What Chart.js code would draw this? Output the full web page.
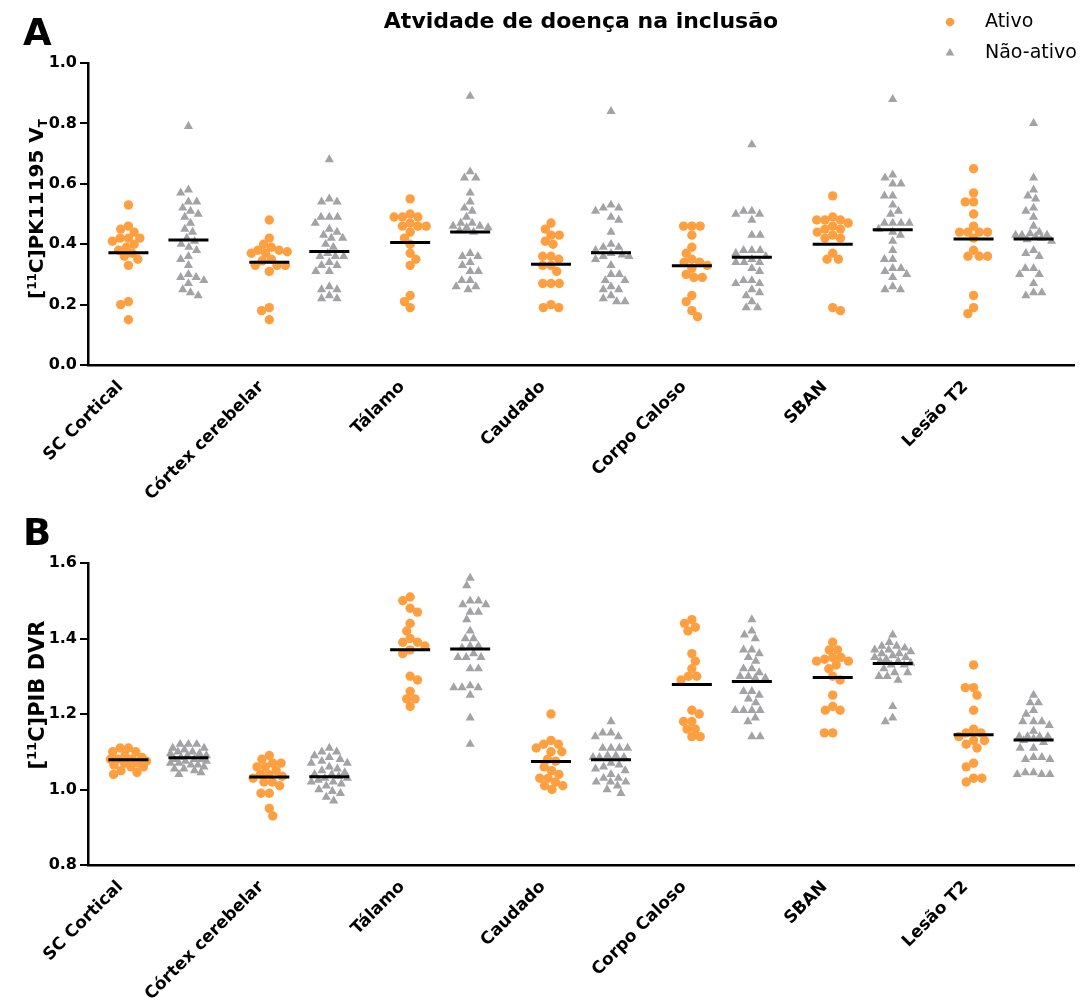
<!DOCTYPE html>
<html>
<head>
<meta charset="utf-8">
<script src="https://cdn.jsdelivr.net/npm/chart.js@4.4.1/dist/chart.umd.min.js"></script>
<style>
  html, body { margin: 0; padding: 0; background: #fff; }
  canvas { display: block; }
</style>
</head>
<body>
<canvas id="panelA" width="1082" height="500"></canvas>
<canvas id="panelB" width="1082" height="500"></canvas>
<script>
// ---- categories, labels ----
const regions = ['SC Cortical', 'Córtex cerebelar', 'Tálamo', 'Caudado', 'Corpo Caloso', 'SBAN', 'Lesão T2'];
const groupNames = ['Ativo', 'Não-ativo'];
const chartTitle = 'Atvidade de doença na inclusão';
const ticksA = [0.0, 0.2, 0.4, 0.6, 0.8, 1.0];
const ticksB = [0.8, 1.0, 1.2, 1.4, 1.6];

// ---- [11C]PK11195 VT, one list per region ----
const pkAtivo = [
  [0.53,0.46,0.45,0.44,0.42,0.42,0.42,0.41,0.40,0.39,0.38,0.37,0.36,0.35,0.33,0.21,0.20,0.15],
  [0.48,0.42,0.40,0.39,0.38,0.38,0.375,0.37,0.37,0.35,0.345,0.33,0.33,0.33,0.31,0.19,0.18,0.15],
  [0.55,0.50,0.49,0.49,0.49,0.47,0.46,0.46,0.46,0.44,0.42,0.40,0.37,0.35,0.33,0.23,0.21,0.19],
  [0.47,0.45,0.43,0.43,0.41,0.40,0.36,0.35,0.36,0.33,0.33,0.31,0.27,0.27,0.27,0.20,0.19,0.19],
  [0.46,0.46,0.46,0.43,0.39,0.37,0.34,0.34,0.35,0.33,0.32,0.30,0.29,0.29,0.23,0.21,0.18,0.16],
  [0.56,0.49,0.48,0.48,0.48,0.47,0.46,0.45,0.45,0.44,0.43,0.42,0.42,0.37,0.35,0.35,0.19,0.18],
  [0.65,0.57,0.54,0.54,0.50,0.46,0.44,0.44,0.44,0.44,0.42,0.38,0.36,0.36,0.36,0.23,0.19,0.17]
];
const pkNaoAtivo = [
  [0.79,0.58,0.57,0.54,0.54,0.52,0.51,0.50,0.49,0.47,0.45,0.44,0.42,0.41,0.40,0.39,0.38,0.36,0.35,0.33,0.30,0.29,0.29,0.28,0.27,0.25,0.24,0.23],
  [0.68,0.55,0.54,0.54,0.49,0.49,0.49,0.47,0.45,0.44,0.43,0.42,0.42,0.40,0.39,0.37,0.36,0.36,0.36,0.34,0.33,0.33,0.31,0.31,0.26,0.25,0.25,0.23,0.22,0.22],
  [0.89,0.64,0.62,0.62,0.57,0.54,0.51,0.52,0.49,0.47,0.46,0.455,0.455,0.46,0.47,0.445,0.44,0.37,0.36,0.36,0.34,0.33,0.31,0.31,0.28,0.28,0.26,0.25,0.26],
  [0.84,0.52,0.53,0.51,0.52,0.49,0.48,0.44,0.40,0.39,0.39,0.38,0.37,0.365,0.36,0.35,0.36,0.33,0.30,0.30,0.28,0.28,0.26,0.25,0.25,0.23,0.22,0.21,0.21],
  [0.73,0.51,0.50,0.50,0.51,0.48,0.43,0.43,0.38,0.38,0.38,0.37,0.36,0.35,0.34,0.34,0.34,0.31,0.32,0.27,0.28,0.28,0.27,0.25,0.24,0.23,0.21,0.19,0.19],
  [0.88,0.63,0.62,0.60,0.60,0.56,0.56,0.53,0.50,0.51,0.47,0.47,0.47,0.47,0.45,0.43,0.44,0.41,0.38,0.35,0.35,0.32,0.31,0.30,0.32,0.29,0.26,0.25,0.25],
  [0.80,0.62,0.58,0.56,0.55,0.52,0.51,0.49,0.46,0.44,0.43,0.43,0.425,0.43,0.435,0.41,0.38,0.36,0.37,0.32,0.30,0.30,0.32,0.27,0.24,0.23,0.24,0.42,0.415]
];
const pkMeanAtivo    = [0.372, 0.340, 0.406, 0.334, 0.329, 0.400, 0.417];
const pkMeanNaoAtivo = [0.414, 0.376, 0.440, 0.372, 0.357, 0.448, 0.417];

// ---- [11C]PIB DVR, one list per region ----
const pibAtivo = [
  [1.11,1.11,1.10,1.10,1.09,1.085,1.08,1.08,1.08,1.075,1.07,1.07,1.065,1.06,1.06,1.05,1.045,1.04],
  [1.09,1.08,1.07,1.07,1.06,1.06,1.05,1.04,1.04,1.035,1.03,1.02,1.02,1.01,0.99,0.99,0.95,0.93],
  [1.51,1.50,1.48,1.47,1.44,1.42,1.40,1.39,1.39,1.38,1.37,1.36,1.30,1.29,1.26,1.24,1.24,1.22],
  [1.20,1.13,1.12,1.12,1.11,1.10,1.10,1.08,1.075,1.06,1.05,1.04,1.03,1.03,1.02,1.01,1.01,1.00],
  [1.45,1.44,1.43,1.42,1.36,1.34,1.32,1.30,1.30,1.29,1.21,1.20,1.18,1.18,1.16,1.16,1.14,1.14],
  [1.39,1.37,1.37,1.35,1.35,1.345,1.34,1.34,1.33,1.32,1.30,1.29,1.25,1.22,1.21,1.21,1.15,1.15],
  [1.33,1.27,1.27,1.25,1.21,1.16,1.15,1.15,1.14,1.13,1.12,1.13,1.11,1.07,1.06,1.03,1.03,1.02]
];
const pibNaoAtivo = [
  [1.12,1.12,1.12,1.11,1.11,1.105,1.10,1.10,1.095,1.095,1.09,1.09,1.085,1.08,1.08,1.08,1.075,1.075,1.07,1.07,1.065,1.065,1.06,1.055,1.055,1.05,1.045,1.04],
  [1.11,1.10,1.10,1.09,1.085,1.08,1.075,1.07,1.07,1.06,1.055,1.05,1.045,1.04,1.04,1.035,1.03,1.03,1.025,1.02,1.02,1.015,1.01,1.00,0.995,0.99,0.98,0.97],
  [1.56,1.54,1.50,1.49,1.49,1.50,1.47,1.47,1.45,1.42,1.40,1.40,1.38,1.38,1.375,1.35,1.36,1.35,1.35,1.32,1.32,1.27,1.27,1.275,1.27,1.25,1.19,1.12],
  [1.18,1.15,1.14,1.14,1.15,1.11,1.11,1.11,1.11,1.09,1.085,1.085,1.085,1.09,1.07,1.065,1.06,1.055,1.05,1.04,1.03,1.03,1.02,1.02,1.02,1.01,0.99,1.00],
  [1.45,1.41,1.42,1.40,1.37,1.37,1.36,1.35,1.34,1.32,1.32,1.31,1.30,1.295,1.295,1.30,1.26,1.26,1.25,1.24,1.23,1.21,1.21,1.21,1.21,1.19,1.18,1.14,1.14],
  [1.41,1.39,1.38,1.38,1.375,1.37,1.37,1.365,1.36,1.36,1.355,1.35,1.35,1.345,1.34,1.34,1.335,1.33,1.33,1.32,1.31,1.31,1.30,1.30,1.29,1.22,1.19,1.18],
  [1.25,1.23,1.23,1.21,1.20,1.18,1.18,1.18,1.17,1.155,1.14,1.14,1.135,1.14,1.14,1.13,1.125,1.11,1.11,1.085,1.08,1.08,1.085,1.045,1.04,1.04,1.04,1.045]
];
const pibMeanAtivo    = [1.079, 1.033, 1.370, 1.074, 1.278, 1.297, 1.145];
const pibMeanNaoAtivo = [1.084, 1.034, 1.372, 1.079, 1.286, 1.334, 1.131];

// ---- styling ----
const FONT = '"DejaVu Sans", "Liberation Sans", Arial, sans-serif';
const ORANGE = '#FF9F40';
const GREY = '#A3A3A6';
const SLOT = 0.213;      // column offset of each group inside a region
const HALF_MEAN = 0.142; // half width of the mean bar, in region units
const SWARM_GAP = 8.3;   // min distance between point centres (px)
const SWARM_HALF = 18;   // max horizontal spread of a column (px)

// Beeswarm placement: keeps each y exactly, pushes points sideways to avoid overlap
function swarm(ys, d, maxHalf) {
  const order = ys.map((_, i) => i).sort((a, b) => ys[a] - ys[b]);
  const placed = [];
  const out = new Array(ys.length).fill(0);
  let pref = 1;
  order.forEach(i => {
    const y = ys[i];
    const near = placed.filter(p => Math.abs(p.y - y) < d);
    const free = x => near.every(p => (p.x - x) ** 2 + (p.y - y) ** 2 >= d * d - 0.01);
    const cands = [0];
    near.forEach(p => {
      const w = Math.sqrt(d * d - (p.y - y) ** 2);
      cands.push(p.x - w, p.x + w);
    });
    cands.sort((a, b) => (Math.abs(a) - Math.abs(b)) || (a - b) * pref);
    let x = cands.find(c => free(c) && Math.abs(c) <= maxHalf);
    if (x === undefined) {
      let best = 0, bestRoom = -1;
      for (let c = -maxHalf; c <= maxHalf; c += 0.5) {
        const room = near.reduce((m, p) => Math.min(m, Math.hypot(p.x - c, p.y - y)), Infinity);
        if (room > bestRoom) { bestRoom = room; best = c; }
      }
      x = best;
    }
    if (x !== 0) pref = Math.sign(x);
    placed.push({ x, y });
    out[i] = x;
  });
  return out;
}

function columnPoints(lists, side) {
  return lists.flatMap((vals, ci) => {
    const c = ci + side * SLOT;
    return vals.map(v => ({ x: c, y: v, col: c }));
  });
}
function meanSegments(means, side) {
  return means.flatMap((m, ci) => {
    const c = ci + side * SLOT;
    return [{ x: c - HALF_MEAN, y: m }, { x: c + HALF_MEAN, y: m }, { x: c, y: null }];
  });
}

function drawMarker(ctx, style, x, y, r, color) {
  ctx.save();
  ctx.fillStyle = color;
  ctx.beginPath();
  if (style === 'circle') {
    ctx.arc(x, y, r, 0, Math.PI * 2);
  } else {
    ctx.moveTo(x, y - r);
    ctx.lineTo(x + r * Math.sin(Math.PI * 2 / 3), y - r * Math.cos(Math.PI * 2 / 3));
    ctx.lineTo(x - r * Math.sin(Math.PI * 2 / 3), y - r * Math.cos(Math.PI * 2 / 3));
    ctx.closePath();
  }
  ctx.fill();
  ctx.restore();
}

// Axis title with super/subscripts, rotated to read bottom-up
function drawRichTitle(ctx, parts, cx, cy, size) {
  ctx.save();
  ctx.translate(cx, cy);
  ctx.rotate(-Math.PI / 2);
  const fontFor = p => `bold ${p.script ? Math.round(size * 0.62) : size}px ${FONT}`;
  let total = 0;
  parts.forEach(p => { ctx.font = fontFor(p); p.w = ctx.measureText(p.t).width; total += p.w; });
  let x = -total / 2;
  ctx.fillStyle = '#000';
  ctx.textBaseline = 'alphabetic';
  ctx.textAlign = 'left';
  parts.forEach(p => {
    ctx.font = fontFor(p);
    const dy = p.script === 'sup' ? -size * 0.36 : p.script === 'sub' ? size * 0.2 : 0;
    ctx.fillText(p.t, x, size * 0.36 + dy);
    x += p.w;
  });
  ctx.restore();
}

const decorations = {
  id: 'decorations',
  afterDraw(chart, args, opts) {
    const ctx = chart.ctx;
    ctx.save();
    ctx.fillStyle = '#000';
    ctx.textBaseline = 'middle';
    ctx.textAlign = 'left';
    ctx.font = `bold 37px ${FONT}`;
    ctx.fillText(opts.letter, 23, 35);
    drawRichTitle(ctx, opts.yTitle, 36, opts.yTitleY, opts.yTitleSize);
    if (opts.header) {
      ctx.textAlign = 'center';
      ctx.font = `bold 22px ${FONT}`;
      ctx.fillText(chartTitle, 581, 22);
      ctx.textAlign = 'left';
      ctx.font = `19px ${FONT}`;
      drawMarker(ctx, 'circle', 950, 22, 4.3, ORANGE);
      ctx.fillText(groupNames[0], 985, 22);
      drawMarker(ctx, 'triangle', 950, 53, 5, GREY);
      ctx.fillText(groupNames[1], 985, 53);
    }
    ctx.restore();
  }
};

function makePanel(id, ativo, nao, meanA, meanN, yTicks, deco) {
  const chart = new Chart(document.getElementById(id), {
    data: {
      datasets: [
        { type: 'scatter', label: groupNames[0], data: columnPoints(ativo, -1),
          pointStyle: 'circle', pointRadius: 4.7, backgroundColor: ORANGE, borderWidth: 0, order: 2 },
        { type: 'scatter', label: groupNames[1], data: columnPoints(nao, 1),
          pointStyle: 'triangle', pointRadius: 5.3, backgroundColor: GREY, borderWidth: 0, order: 2 },
        { type: 'line', data: meanSegments(meanA, -1), borderColor: '#000', borderWidth: 3,
          pointRadius: 0, spanGaps: false, order: 1, borderCapStyle: 'butt' },
        { type: 'line', data: meanSegments(meanN, 1), borderColor: '#000', borderWidth: 3,
          pointRadius: 0, spanGaps: false, order: 1, borderCapStyle: 'butt' }
      ]
    },
    options: {
      responsive: false,
      animation: false,
      devicePixelRatio: 1,
      events: [],
      layout: { padding: { left: 0, right: 8, top: 63, bottom: 0 } },
      plugins: { legend: { display: false }, tooltip: { enabled: false }, decorations: deco },
      scales: {
        x: {
          type: 'linear', min: -0.5, max: regions.length - 0.5,
          afterBuildTicks: s => { s.ticks = regions.map((_, i) => ({ value: i })); },
          afterFit: s => { s.height = 135; },
          grid: { display: false, drawTicks: false },
          border: { display: true, color: '#000', width: 2.5 },
          ticks: {
            autoSkip: false, minRotation: 45, maxRotation: 45, padding: 12, labelOffset: -38,
            color: '#000', font: { family: FONT, size: 17, weight: 'bold' },
            callback: (v, i) => regions[i]
          }
        },
        y: {
          min: yTicks[0], max: yTicks[yTicks.length - 1],
          afterBuildTicks: s => { s.ticks = yTicks.map(v => ({ value: v })); },
          afterFit: s => { s.width = 88; },
          grid: { drawOnChartArea: false, drawTicks: true, tickLength: 8, color: '#000', lineWidth: 2 },
          border: { display: true, color: '#000', width: 2.5 },
          ticks: {
            padding: 3, color: '#000', font: { family: FONT, size: 16, weight: 'bold' },
            callback: v => v.toFixed(1)
          }
        }
      }
    },
    plugins: [decorations]
  });

  // spread each column sideways now that pixel scales are known
  const xs = chart.scales.x, ys = chart.scales.y;
  const pxPerUnit = xs.getPixelForValue(1) - xs.getPixelForValue(0);
  [0, 1].forEach(di => {
    const cols = new Map();
    chart.data.datasets[di].data.forEach(p => {
      if (!cols.has(p.col)) cols.set(p.col, []);
      cols.get(p.col).push(p);
    });
    cols.forEach(pts => {
      const offs = swarm(pts.map(p => ys.getPixelForValue(p.y)), SWARM_GAP, SWARM_HALF);
      pts.forEach((p, k) => { p.x = p.col + offs[k] / pxPerUnit; });
    });
  });
  chart.update('none');
  return chart;
}

makePanel('panelA', pkAtivo, pkNaoAtivo, pkMeanAtivo, pkMeanNaoAtivo, ticksA, {
  letter: 'A', header: true, yTitleY: 209, yTitleSize: 20,
  yTitle: [{ t: '[' }, { t: '11', script: 'sup' }, { t: 'C]PK11195 V' }, { t: 'T', script: 'sub' }]
});
makePanel('panelB', pibAtivo, pibNaoAtivo, pibMeanAtivo, pibMeanNaoAtivo, ticksB, {
  letter: 'B', header: false, yTitleY: 195, yTitleSize: 21,
  yTitle: [{ t: '[' }, { t: '11', script: 'sup' }, { t: 'C]PIB DVR' }]
});
</script>
</body>
</html>
